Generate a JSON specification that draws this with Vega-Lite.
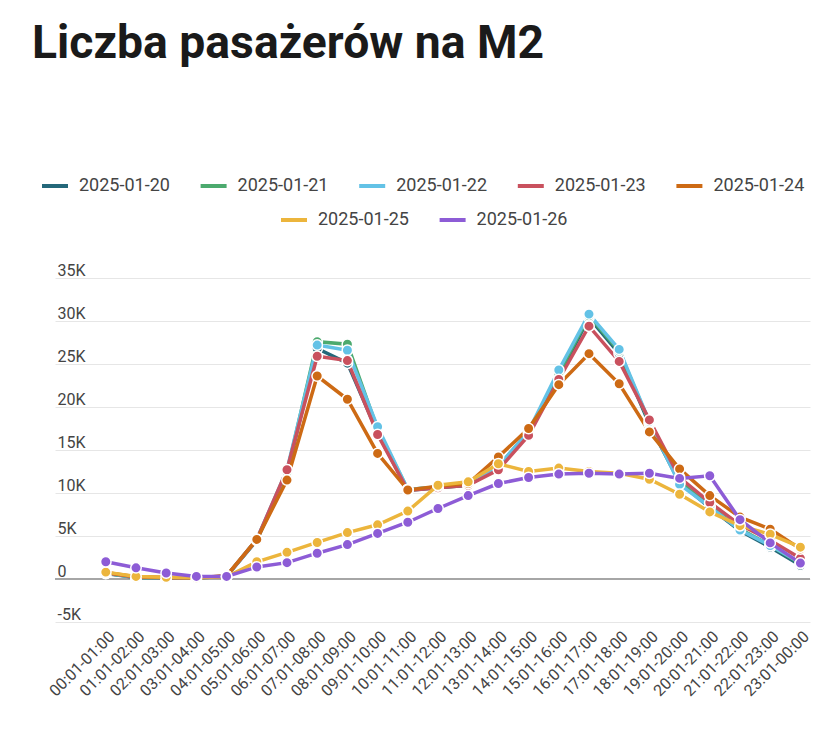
{
  "$schema": "https://vega.github.io/schema/vega-lite/v6.json",
  "width": 755,
  "height": 344,
  "autosize": "none",
  "padding": {"left": 55, "top": 278, "right": 17, "bottom": 113},
  "title": {
    "text": "Liczba pasażerów na M2",
    "anchor": "start",
    "frame": "group",
    "dx": -23,
    "offset": 104,
    "font": "Roboto",
    "fontSize": 46.3,
    "fontWeight": "bold",
    "color": "#1a1a1a"
  },
  "data": {
    "values": [
      {"h": "00:01-01:00", "2025-01-20": 650, "2025-01-21": 680, "2025-01-22": 700, "2025-01-23": 720, "2025-01-24": 750, "2025-01-25": 800, "2025-01-26": 2000},
      {"h": "01:01-02:00", "2025-01-20": 180, "2025-01-21": 200, "2025-01-22": 210, "2025-01-23": 220, "2025-01-24": 250, "2025-01-25": 300, "2025-01-26": 1300},
      {"h": "02:01-03:00", "2025-01-20": 120, "2025-01-21": 130, "2025-01-22": 140, "2025-01-23": 150, "2025-01-24": 180, "2025-01-25": 200, "2025-01-26": 700},
      {"h": "03:01-04:00", "2025-01-20": 130, "2025-01-21": 140, "2025-01-22": 140, "2025-01-23": 150, "2025-01-24": 150, "2025-01-25": 150, "2025-01-26": 300},
      {"h": "04:01-05:00", "2025-01-20": 320, "2025-01-21": 330, "2025-01-22": 340, "2025-01-23": 350, "2025-01-24": 380, "2025-01-25": 250, "2025-01-26": 300},
      {"h": "05:01-06:00", "2025-01-20": 4500, "2025-01-21": 4600, "2025-01-22": 4600, "2025-01-23": 4600, "2025-01-24": 4600, "2025-01-25": 2000, "2025-01-26": 1400},
      {"h": "06:01-07:00", "2025-01-20": 12300, "2025-01-21": 12400, "2025-01-22": 12700, "2025-01-23": 12700, "2025-01-24": 11500, "2025-01-25": 3100, "2025-01-26": 1900},
      {"h": "07:01-08:00", "2025-01-20": 26800, "2025-01-21": 27600, "2025-01-22": 27200, "2025-01-23": 25900, "2025-01-24": 23600, "2025-01-25": 4250, "2025-01-26": 3000},
      {"h": "08:01-09:00", "2025-01-20": 25100, "2025-01-21": 27300, "2025-01-22": 26600, "2025-01-23": 25400, "2025-01-24": 20900, "2025-01-25": 5400, "2025-01-26": 4000},
      {"h": "09:01-10:00", "2025-01-20": 17000, "2025-01-21": 17400, "2025-01-22": 17700, "2025-01-23": 16800, "2025-01-24": 14600, "2025-01-25": 6300, "2025-01-26": 5300},
      {"h": "10:01-11:00", "2025-01-20": 10300, "2025-01-21": 10400, "2025-01-22": 10400, "2025-01-23": 10300, "2025-01-24": 10350, "2025-01-25": 7900, "2025-01-26": 6600},
      {"h": "11:01-12:00", "2025-01-20": 10600, "2025-01-21": 10700, "2025-01-22": 10700, "2025-01-23": 10600, "2025-01-24": 10800, "2025-01-25": 10900, "2025-01-26": 8200},
      {"h": "12:01-13:00", "2025-01-20": 10900, "2025-01-21": 10900, "2025-01-22": 11000, "2025-01-23": 10900, "2025-01-24": 11100, "2025-01-25": 11300, "2025-01-26": 9700},
      {"h": "13:01-14:00", "2025-01-20": 13000, "2025-01-21": 13100, "2025-01-22": 13100, "2025-01-23": 12700, "2025-01-24": 14200, "2025-01-25": 13400, "2025-01-26": 11100},
      {"h": "14:01-15:00", "2025-01-20": 17000, "2025-01-21": 17100, "2025-01-22": 17200, "2025-01-23": 16700, "2025-01-24": 17500, "2025-01-25": 12500, "2025-01-26": 11800},
      {"h": "15:01-16:00", "2025-01-20": 23500, "2025-01-21": 23900, "2025-01-22": 24300, "2025-01-23": 23200, "2025-01-24": 22600, "2025-01-25": 12900, "2025-01-26": 12200},
      {"h": "16:01-17:00", "2025-01-20": 30400, "2025-01-21": 30600, "2025-01-22": 30800, "2025-01-23": 29400, "2025-01-24": 26200, "2025-01-25": 12500, "2025-01-26": 12300},
      {"h": "17:01-18:00", "2025-01-20": 26200, "2025-01-21": 26500, "2025-01-22": 26700, "2025-01-23": 25300, "2025-01-24": 22700, "2025-01-25": 12300, "2025-01-26": 12200},
      {"h": "18:01-19:00", "2025-01-20": 18000, "2025-01-21": 18200, "2025-01-22": 18300, "2025-01-23": 18500, "2025-01-24": 17100, "2025-01-25": 11600, "2025-01-26": 12300},
      {"h": "19:01-20:00", "2025-01-20": 11200, "2025-01-21": 11300, "2025-01-22": 11000, "2025-01-23": 11800, "2025-01-24": 12800, "2025-01-25": 9850, "2025-01-26": 11700},
      {"h": "20:01-21:00", "2025-01-20": 8300, "2025-01-21": 8500, "2025-01-22": 8400, "2025-01-23": 8900, "2025-01-24": 9700, "2025-01-25": 7800, "2025-01-26": 12000},
      {"h": "21:01-22:00", "2025-01-20": 5600, "2025-01-21": 5800, "2025-01-22": 5700, "2025-01-23": 6300, "2025-01-24": 7200, "2025-01-25": 6200, "2025-01-26": 6900},
      {"h": "22:01-23:00", "2025-01-20": 3700, "2025-01-21": 3900, "2025-01-22": 3900, "2025-01-23": 4500, "2025-01-24": 5800, "2025-01-25": 5200, "2025-01-26": 4200},
      {"h": "23:01-00:00", "2025-01-20": 1600, "2025-01-21": 1800, "2025-01-22": 1900, "2025-01-23": 2400, "2025-01-24": 3500, "2025-01-25": 3700, "2025-01-26": 1850}
    ]
  },
  "transform": [
    {"fold": ["2025-01-20", "2025-01-21", "2025-01-22", "2025-01-23", "2025-01-24", "2025-01-25", "2025-01-26"], "as": ["d", "v"]}
  ],
  "encoding": {
    "x": {
      "field": "h", "type": "ordinal", "sort": null,
      "scale": {"type": "point", "padding": 1.047, "align": 0.841},
      "axis": {"title": null, "labelAngle": -45, "labelFontSize": 16, "labelColor": "#444444", "labelFont": "Roboto", "domain": false, "ticks": false, "grid": false, "labelPadding": 6}
    },
    "y": {
      "field": "v", "type": "quantitative",
      "scale": {"domain": [-5000, 35000], "nice": false, "zero": false},
      "axis": {
        "title": null, "values": [-5000, 0, 5000, 10000, 15000, 20000, 25000, 30000, 35000],
        "labelExpr": "datum.value == 0 ? '0' : (datum.value / 1000) + 'K'",
        "domain": false, "ticks": false, "tickSize": 0, "grid": true, "gridColor": "#e6e6e6", "gridWidth": 1,
        "labelAlign": "left", "labelBaseline": "bottom", "labelPadding": -2, "labelOffset": 0,
        "labelFontSize": 16, "labelColor": "#444444", "labelFont": "Roboto"
      }
    }
  },
  "layer": [
    {"mark": {"type": "rule", "color": "#a6a6a6", "strokeWidth": 1.5}, "encoding": {"x": null, "y": {"datum": 0}}},
    {
      "transform": [{"filter": "datum.d < '2025-01-25'"}],
      "layer": [
        {
          "mark": {"type": "line", "strokeWidth": 3.5},
          "encoding": {
            "color": {
              "field": "d", "type": "nominal",
              "scale": {"domain": ["2025-01-20", "2025-01-21", "2025-01-22", "2025-01-23", "2025-01-24"], "range": ["#24687a", "#4caa6e", "#63c2e6", "#c9515e", "#cd6a14"]},
              "legend": {"orient": "none", "legendX": -15, "legendY": -107, "direction": "horizontal", "columns": 5, "columnPadding": 22.6, "title": null, "symbolType": "stroke", "symbolSize": 676, "symbolStrokeWidth": 4, "labelFontSize": 18, "labelColor": "#444444", "labelFont": "Roboto", "labelOffset": 9}
            }
          }
        },
        {
          "mark": {"type": "circle", "size": 110, "stroke": "white", "strokeWidth": 1.5, "opacity": 1},
          "encoding": {
            "fill": {
              "field": "d", "type": "nominal", "legend": null,
              "scale": {"domain": ["2025-01-20", "2025-01-21", "2025-01-22", "2025-01-23", "2025-01-24"], "range": ["#24687a", "#4caa6e", "#63c2e6", "#c9515e", "#cd6a14"]}
            }
          }
        }
      ]
    },
    {
      "transform": [{"filter": "datum.d >= '2025-01-25'"}],
      "layer": [
        {
          "mark": {"type": "line", "strokeWidth": 3.5},
          "encoding": {
            "color": {
              "field": "d", "type": "nominal",
              "scale": {"domain": ["2025-01-25", "2025-01-26"], "range": ["#ecb53c", "#8d5cd6"]},
              "legend": {"orient": "none", "legendX": 224, "legendY": -73, "direction": "horizontal", "columns": 2, "columnPadding": 22.6, "title": null, "symbolType": "stroke", "symbolSize": 676, "symbolStrokeWidth": 4, "labelFontSize": 18, "labelColor": "#444444", "labelFont": "Roboto", "labelOffset": 9}
            }
          }
        },
        {
          "mark": {"type": "circle", "size": 110, "stroke": "white", "strokeWidth": 1.5, "opacity": 1},
          "encoding": {
            "fill": {
              "field": "d", "type": "nominal", "legend": null,
              "scale": {"domain": ["2025-01-25", "2025-01-26"], "range": ["#ecb53c", "#8d5cd6"]}
            }
          }
        }
      ]
    }
  ],
  "resolve": {"scale": {"color": "independent", "fill": "independent"}},
  "config": {"view": {"stroke": null}}
}
